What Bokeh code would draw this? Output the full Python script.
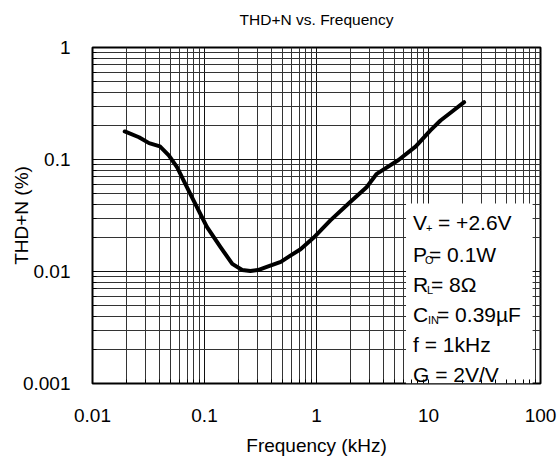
from bokeh.plotting import figure
from bokeh.models import FixedTicker, BoxAnnotation, Label
from bokeh.embed import file_html
from bokeh.resources import INLINE

# ---- data ----
freq_khz = [0.0194, 0.026, 0.032, 0.040, 0.048, 0.057, 0.065, 0.080, 0.105, 0.139,
            0.177, 0.217, 0.257, 0.30, 0.36, 0.48, 0.58, 0.72, 0.94, 1.33,
            2.0, 2.8, 3.45, 5.4, 7.7, 10.4, 12.8, 16.7, 20.8]
thd_pct = [0.178, 0.158, 0.140, 0.131, 0.109, 0.085, 0.065, 0.043, 0.025, 0.0165,
           0.0117, 0.0103, 0.0101, 0.0103, 0.0110, 0.0122, 0.0138, 0.0158, 0.0200, 0.0286,
           0.0418, 0.0566, 0.0745, 0.099, 0.131, 0.182, 0.223, 0.274, 0.325]

x_ticks = [0.01, 0.1, 1, 10, 100]
x_tick_labels = ["0.01", "0.1", "1", "10", "100"]
y_ticks = [0.001, 0.01, 0.1, 1]
y_tick_labels = ["0.001", "0.01", "0.1", "1"]
minor_mults = [2, 3, 4, 5, 6, 7, 8, 9]
x_minor = [m * t for t in x_ticks[:-1] for m in minor_mults]
y_minor = [m * t for t in y_ticks[:-1] for m in minor_mults]

cond_main = ["V", "P", "R", "C", "f = 1kHz", "G = 2V/V"]
cond_sub = ["+", "O", "L", "IN", "", ""]
cond_rest = [" = +2.6V", " = 0.1W", " = 8\u03a9", " = 0.39\u00b5F", "", ""]

title_text = "THD+N vs. Frequency"
x_label = "Frequency (kHz)"
y_label = "THD+N (%)"

FONT = "Liberation Sans"

p = figure(frame_width=448, frame_height=336,
           x_axis_type="log", y_axis_type="log",
           x_range=(0.01, 100), y_range=(0.001, 1),
           output_backend="svg", toolbar_location=None,
           min_border_left=92, min_border_right=20,
           min_border_top=47, min_border_bottom=88)

# an empty second line lifts the title away from the frame
p.title.text = title_text + "\n "
p.title.align = "center"
p.title.vertical_align = "bottom"
p.title.text_font = FONT
p.title.text_font_size = "15.5px"
p.title.text_font_style = "normal"
p.title.text_color = "black"
p.title.standoff = 6

p.outline_line_color = "black"
p.outline_line_width = 2
p.background_fill_color = "white"
p.border_fill_color = "white"

p.xaxis.ticker = FixedTicker(ticks=x_ticks, minor_ticks=x_minor)
p.yaxis.ticker = FixedTicker(ticks=y_ticks, minor_ticks=y_minor)
p.xaxis.major_label_overrides = {t: s for t, s in zip(x_ticks, x_tick_labels)}
p.yaxis.major_label_overrides = {t: s for t, s in zip(y_ticks, y_tick_labels)}

for ax in (p.xaxis, p.yaxis):
    ax.axis_line_color = None
    ax.major_tick_line_color = "black"
    ax.minor_tick_line_color = "black"
    ax.major_tick_in = 4
    ax.major_tick_out = 0
    ax.minor_tick_in = 4
    ax.minor_tick_out = 0
    ax.major_label_text_font = FONT
    ax.major_label_text_font_size = "19px"
    ax.major_label_text_color = "black"
    ax.axis_label_text_font = FONT
    ax.axis_label_text_font_size = "19px"
    ax.axis_label_text_font_style = "normal"
    ax.axis_label_text_color = "black"

p.xaxis.axis_label = x_label
p.yaxis.axis_label = y_label
p.xaxis.major_label_standoff = 25
p.xaxis.axis_label_standoff = 10
p.yaxis.major_label_standoff = 22
p.yaxis.axis_label_standoff = -12

for g in (p.xgrid, p.ygrid):
    g.grid_line_color = "#111111"
    g.grid_line_width = 1
    g.minor_grid_line_color = "#333333"
    g.minor_grid_line_width = 1

p.line(freq_khz, thd_pct, line_color="black", line_width=4,
       line_join="round", line_cap="round")

# condition box (white, covers the grid)
box_left, box_right, box_top = 6.3, 85, 0.0405
p.add_layout(BoxAnnotation(left=box_left, right=box_right, top=box_top, bottom=0.001,
                           fill_color="white", fill_alpha=1, line_color=None,
                           level="glyph"))

sub_dx = {"V": 13, "P": 12, "R": 14, "C": 15}
rest_dx = {"V": 25, "P": 16, "R": 18, "C": 24}
row_offsets = [161, 129, 99, 69, 39, 9]
x0 = 7
for m, s, r, dy in zip(cond_main, cond_sub, cond_rest, row_offsets):
    p.add_layout(Label(x=box_left, y=0.001, x_offset=x0, y_offset=dy, text=m,
                       text_font=FONT, text_font_size="21px", text_color="black",
                       text_baseline="middle", text_align="left"))
    if s:
        p.add_layout(Label(x=box_left, y=0.001, x_offset=x0 + sub_dx[m], y_offset=dy - 5,
                           text=s, text_font=FONT, text_font_size="11px",
                           text_color="black", text_baseline="middle", text_align="left"))
        p.add_layout(Label(x=box_left, y=0.001, x_offset=x0 + rest_dx[m], y_offset=dy,
                           text=r, text_font=FONT, text_font_size="21px",
                           text_color="black", text_baseline="middle", text_align="left"))

open("out.html", "w").write(file_html(p, INLINE))
